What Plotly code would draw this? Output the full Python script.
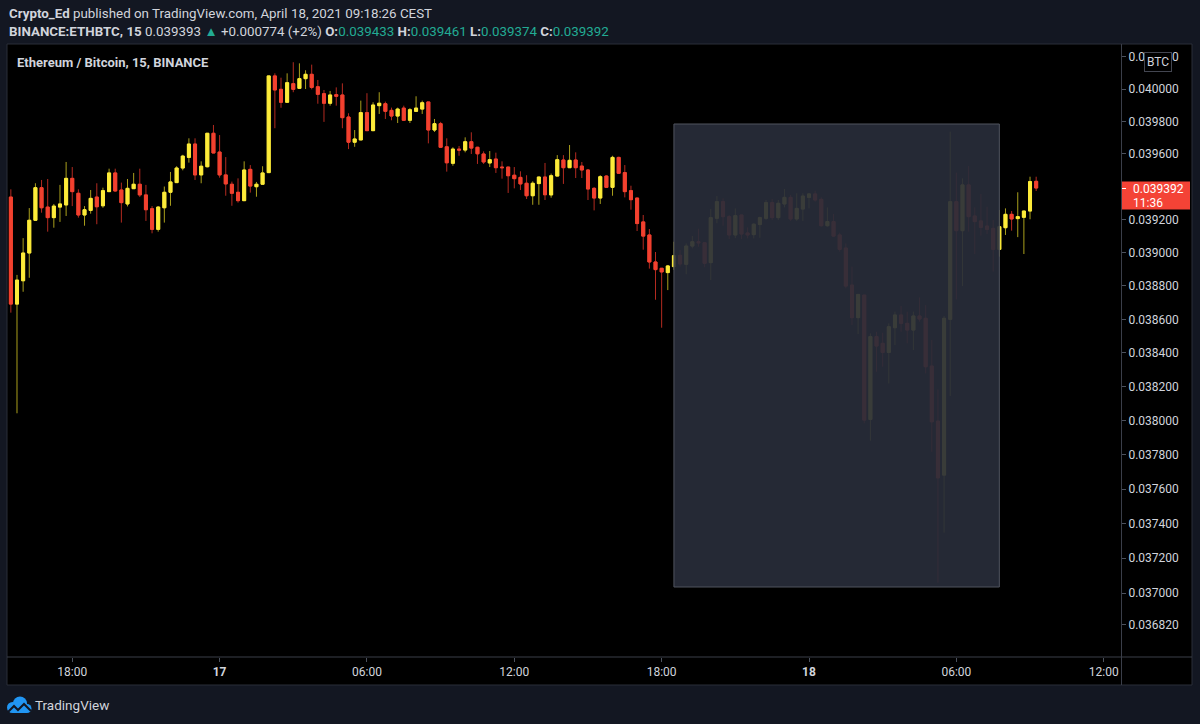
import math
import pandas as pd
import plotly.graph_objects as go

# ---------------- data (ETH/BTC, 15 min candles, Binance) ----------------
START = "2021-04-16 15:30"
open_ = [0.039337, 0.038691, 0.038831, 0.038998, 0.039196, 0.039394, 0.039276, 0.039212, 0.039276, 0.039289,
         0.039451, 0.039360, 0.039228, 0.039256, 0.039337, 0.039284, 0.039370, 0.039484, 0.039380, 0.039295,
         0.039388, 0.039415, 0.039350, 0.039266, 0.039141, 0.039272, 0.039366, 0.039425, 0.039514, 0.039579,
         0.039661, 0.039472, 0.039522, 0.039727, 0.039612, 0.039472, 0.039415, 0.039366, 0.039315, 0.039506,
         0.039400, 0.039415, 0.039486, 0.040081, 0.039998, 0.039918, 0.040033, 0.040004, 0.040064, 0.040091,
         0.040014, 0.039971, 0.039912, 0.039965, 0.039963, 0.039827, 0.039672, 0.039686, 0.039854, 0.039743,
         0.039897, 0.039909, 0.039868, 0.039833, 0.039882, 0.039807, 0.039862, 0.039876, 0.039920, 0.039747,
         0.039786, 0.039644, 0.039543, 0.039630, 0.039624, 0.039675, 0.039641, 0.039600, 0.039545, 0.039569,
         0.039520, 0.039520, 0.039470, 0.039457, 0.039421, 0.039345, 0.039419, 0.039459, 0.039350, 0.039465,
         0.039563, 0.039516, 0.039563, 0.039526, 0.039502, 0.039390, 0.039331, 0.039465, 0.039396, 0.039579,
         0.039486, 0.039376, 0.039331, 0.039186, 0.039107, 0.038944, 0.038906, 0.038880, 0.038916, 0.038984,
         0.038930, 0.039040, 0.039066, 0.039060, 0.038940, 0.039208, 0.039309, 0.039218, 0.039107, 0.039228,
         0.039119, 0.039109, 0.039170, 0.039208, 0.039303, 0.039212, 0.039295, 0.039335, 0.039204, 0.039264,
         0.039335, 0.039356, 0.039323, 0.039163, 0.039188, 0.039107, 0.039028, 0.038805, 0.038610, 0.038745,
         0.038007, 0.038497, 0.038457, 0.038403, 0.038550, 0.038626, 0.038576, 0.038536, 0.038620, 0.038606,
         0.038322, 0.037997, 0.037681, 0.038600, 0.039309, 0.039133, 0.039411, 0.039222, 0.039192, 0.039161,
         0.039147, 0.039020, 0.039151, 0.039232, 0.039206, 0.039214, 0.039252, 0.039433]
high = [0.039384, 0.038866, 0.039088, 0.039270, 0.039421, 0.039441, 0.039447, 0.039295, 0.039411, 0.039551,
        0.039520, 0.039384, 0.039282, 0.039380, 0.039421, 0.039394, 0.039510, 0.039510, 0.039425, 0.039447,
        0.039484, 0.039510, 0.039411, 0.039282, 0.039282, 0.039401, 0.039490, 0.039525, 0.039595, 0.039696,
        0.039696, 0.039555, 0.039727, 0.039778, 0.039716, 0.039581, 0.039431, 0.039451, 0.039555, 0.039532,
        0.039429, 0.039525, 0.040081, 0.040097, 0.040070, 0.040097, 0.040166, 0.040159, 0.040116, 0.040151,
        0.040056, 0.039994, 0.039988, 0.040010, 0.040035, 0.039850, 0.039747, 0.039928, 0.039974, 0.039918,
        0.039980, 0.039922, 0.039885, 0.039885, 0.039897, 0.039882, 0.039955, 0.039928, 0.039920, 0.039815,
        0.039797, 0.039696, 0.039641, 0.039649, 0.039702, 0.039733, 0.039644, 0.039616, 0.039618, 0.039608,
        0.039555, 0.039520, 0.039520, 0.039494, 0.039470, 0.039433, 0.039459, 0.039545, 0.039480, 0.039593,
        0.039593, 0.039655, 0.039610, 0.039551, 0.039508, 0.039398, 0.039470, 0.039470, 0.039589, 0.039583,
        0.039532, 0.039406, 0.039331, 0.039228, 0.039143, 0.039004, 0.038906, 0.038926, 0.039066, 0.039016,
        0.039056, 0.039101, 0.039145, 0.039060, 0.039264, 0.039343, 0.039329, 0.039228, 0.039268, 0.039228,
        0.039153, 0.039178, 0.039218, 0.039319, 0.039325, 0.039319, 0.039386, 0.039350, 0.039360, 0.039360,
        0.039360, 0.039376, 0.039335, 0.039274, 0.039234, 0.039121, 0.039056, 0.038916, 0.038749, 0.038745,
        0.038516, 0.038526, 0.038520, 0.038576, 0.038646, 0.038680, 0.038646, 0.038646, 0.038731, 0.038685,
        0.038477, 0.038184, 0.038620, 0.039737, 0.039486, 0.039451, 0.039526, 0.039274, 0.039356, 0.039278,
        0.039198, 0.039258, 0.039268, 0.039252, 0.039366, 0.039252, 0.039461, 0.039461]
low = [0.038640, 0.038043, 0.038765, 0.038849, 0.039192, 0.039242, 0.039127, 0.039151, 0.039186, 0.039222,
       0.039282, 0.039212, 0.039163, 0.039236, 0.039172, 0.039272, 0.039370, 0.039370, 0.039182, 0.039280,
       0.039386, 0.039337, 0.039192, 0.039117, 0.039127, 0.039182, 0.039284, 0.039425, 0.039500, 0.039547,
       0.039441, 0.039421, 0.039518, 0.039606, 0.039455, 0.039345, 0.039284, 0.039303, 0.039315, 0.039364,
       0.039339, 0.039415, 0.039486, 0.039758, 0.039884, 0.039915, 0.039980, 0.040000, 0.040000, 0.039998,
       0.039909, 0.039797, 0.039897, 0.039897, 0.039758, 0.039630, 0.039644, 0.039686, 0.039741, 0.039743,
       0.039846, 0.039815, 0.039807, 0.039790, 0.039805, 0.039790, 0.039858, 0.039846, 0.039665, 0.039735,
       0.039638, 0.039492, 0.039528, 0.039589, 0.039610, 0.039600, 0.039539, 0.039539, 0.039520, 0.039484,
       0.039449, 0.039362, 0.039390, 0.039380, 0.039325, 0.039290, 0.039290, 0.039319, 0.039333, 0.039465,
       0.039417, 0.039516, 0.039453, 0.039453, 0.039319, 0.039256, 0.039295, 0.039396, 0.039345, 0.039478,
       0.039335, 0.039260, 0.039131, 0.039018, 0.038904, 0.038717, 0.038550, 0.038775, 0.038896, 0.038916,
       0.038870, 0.039026, 0.039036, 0.038912, 0.038835, 0.039178, 0.039163, 0.039082, 0.039088, 0.039082,
       0.039086, 0.039086, 0.039090, 0.039198, 0.039198, 0.039198, 0.039274, 0.039192, 0.039192, 0.039192,
       0.039268, 0.039309, 0.039157, 0.039157, 0.039096, 0.039006, 0.038785, 0.038566, 0.038512, 0.037984,
       0.037882, 0.038288, 0.038318, 0.038219, 0.038447, 0.038526, 0.038457, 0.038417, 0.038586, 0.038278,
       0.037817, 0.037059, 0.037347, 0.038145, 0.038719, 0.038799, 0.039127, 0.038992, 0.039103, 0.039113,
       0.038886, 0.038976, 0.039107, 0.039133, 0.039094, 0.038992, 0.039202, 0.039374]
close = [0.038691, 0.038835, 0.038998, 0.039196, 0.039394, 0.039272, 0.039212, 0.039282, 0.039295, 0.039451,
         0.039370, 0.039228, 0.039260, 0.039329, 0.039278, 0.039376, 0.039484, 0.039374, 0.039303, 0.039390,
         0.039415, 0.039350, 0.039260, 0.039141, 0.039276, 0.039366, 0.039429, 0.039514, 0.039587, 0.039661,
         0.039472, 0.039525, 0.039727, 0.039606, 0.039472, 0.039417, 0.039360, 0.039315, 0.039502, 0.039404,
         0.039415, 0.039484, 0.040081, 0.039994, 0.039918, 0.040039, 0.039998, 0.040064, 0.040091, 0.040010,
         0.039967, 0.039912, 0.039963, 0.039955, 0.039823, 0.039672, 0.039692, 0.039854, 0.039743, 0.039901,
         0.039912, 0.039862, 0.039833, 0.039876, 0.039807, 0.039872, 0.039882, 0.039915, 0.039747, 0.039786,
         0.039641, 0.039546, 0.039630, 0.039624, 0.039675, 0.039636, 0.039601, 0.039551, 0.039565, 0.039516,
         0.039516, 0.039467, 0.039449, 0.039417, 0.039345, 0.039421, 0.039459, 0.039351, 0.039467, 0.039565,
         0.039516, 0.039561, 0.039516, 0.039502, 0.039386, 0.039331, 0.039461, 0.039396, 0.039579, 0.039482,
         0.039370, 0.039321, 0.039176, 0.039100, 0.038944, 0.038898, 0.038884, 0.038920, 0.038982, 0.038932,
         0.039040, 0.039066, 0.039060, 0.038936, 0.039212, 0.039309, 0.039218, 0.039107, 0.039224, 0.039113,
         0.039107, 0.039172, 0.039212, 0.039303, 0.039212, 0.039299, 0.039335, 0.039204, 0.039268, 0.039343,
         0.039356, 0.039319, 0.039163, 0.039188, 0.039100, 0.039020, 0.038799, 0.038610, 0.038749, 0.038003,
         0.038497, 0.038441, 0.038403, 0.038556, 0.038626, 0.038576, 0.038536, 0.038620, 0.038602, 0.038318,
         0.037993, 0.037665, 0.038606, 0.039309, 0.039133, 0.039411, 0.039218, 0.039188, 0.039153, 0.039141,
         0.039020, 0.039157, 0.039232, 0.039204, 0.039218, 0.039252, 0.039431, 0.039392]

price_ticks = [0.0402, 0.0400, 0.0398, 0.0396, 0.0392, 0.0390, 0.0388, 0.0386, 0.0384, 0.0382,
               0.0380, 0.0378, 0.0376, 0.0374, 0.0372, 0.0370, 0.03682]
time_ticks = ["2021-04-16 18:00", "2021-04-17 00:00", "2021-04-17 06:00", "2021-04-17 12:00",
              "2021-04-17 18:00", "2021-04-18 00:00", "2021-04-18 06:00", "2021-04-18 12:00"]
time_tick_text = ["18:00", "<b>17</b>", "06:00", "12:00", "18:00", "<b>18</b>", "06:00", "12:00"]

last_price = 0.039392
countdown = "11:36"
day_change = "+0.000774 (+2%)"
day_price = "0.039393"

times = pd.date_range(START, periods=len(open_), freq="15min")

# ---------------- style / geometry ----------------
W, H = 1200, 724
PL, PR, PT, PB = 8, 1121, 45, 657          # plot area in pixels
UP, DN = "#fdeb3a", "#f2412f"
UP_W, DN_W = "#a99f1c", "#b32a20"
TXT = "#d1d4dc"
TEAL = "#22ab94"
FONT = "Roboto, Lato, sans-serif"


def px(x):
    return (x - PL) / (PR - PL)


def py(y):
    return (PB - y) / (PB - PT)


# axis ranges (log price axis, time axis)
K = 14886.0                     # pixels per decade
lg40 = math.log10(0.04)         # 0.040000 sits at y=89
y_range = [lg40 - (PB - 89) / K, lg40 + (89 - PT) / K]
PXH = (809 - 219.6) / 24.0      # pixels per hour
d17 = pd.Timestamp("2021-04-17")
d18 = pd.Timestamp("2021-04-18")
x_range = [str(d17 - pd.Timedelta(hours=(219.6 - PL) / PXH)),
           str(d18 + pd.Timedelta(hours=(PR - 809) / PXH))]

body_hi = [max(o, c) for o, c in zip(open_, close)]
body_lo = [min(o, c) for o, c in zip(open_, close)]

fig = go.Figure()
fig.add_trace(go.Candlestick(
    x=times, open=open_, high=high, low=low, close=close,
    increasing=dict(line=dict(color=UP_W, width=1), fillcolor=UP),
    decreasing=dict(line=dict(color=DN_W, width=1), fillcolor=DN),
    whiskerwidth=0, showlegend=False, hoverinfo="skip"))
fig.add_trace(go.Candlestick(
    x=times, open=open_, high=body_hi, low=body_lo, close=close,
    increasing=dict(line=dict(color=UP, width=1), fillcolor=UP),
    decreasing=dict(line=dict(color=DN, width=1), fillcolor=DN),
    whiskerwidth=0, showlegend=False, hoverinfo="skip"))

shapes = []
# pane background and frame
shapes.append(dict(type="rect", xref="paper", yref="paper", x0=px(7), x1=px(1192), y0=py(685), y1=py(44),
                   fillcolor="#000000", line=dict(color="#2a2e39", width=1), layer="below"))
shapes.append(dict(type="line", xref="paper", yref="paper", x0=px(7), x1=px(1192), y0=py(657), y1=py(657),
                   line=dict(color="#3a3e49", width=1)))
shapes.append(dict(type="line", xref="paper", yref="paper", x0=px(1121.5), x1=px(1121.5), y0=py(44), y1=py(685),
                   line=dict(color="#3a3e49", width=1)))
# grey rectangle drawing
shapes.append(dict(type="rect", xref="x", yref="paper", x0="2021-04-17 18:30", x1="2021-04-18 07:45",
                   y0=py(587), y1=py(124), fillcolor="rgba(40,44,57,0.92)",
                   line=dict(color="#50545f", width=1), layer="above"))
# last price label
shapes.append(dict(type="rect", xref="paper", yref="paper", x0=px(1122), x1=px(1190), y0=py(209.5), y1=py(181.5),
                   fillcolor="#f44336", line=dict(width=0)))
shapes.append(dict(type="line", xref="paper", yref="paper", x0=px(1122), x1=px(1126), y0=py(188.5), y1=py(188.5),
                   line=dict(color="#ffffff", width=1)))
# TradingView logo (cloud)
BLUE = "#2196f3"
for cx, cy, r in [(12.5, 707.5, 5.5), (20, 703.5, 7), (27, 708.5, 4.5)]:
    shapes.append(dict(type="circle", xref="paper", yref="paper", x0=px(cx - r), x1=px(cx + r),
                       y0=py(cy + r), y1=py(cy - r), fillcolor=BLUE, line=dict(width=0)))
shapes.append(dict(type="rect", xref="paper", yref="paper", x0=px(12.5), x1=px(27), y0=py(713), y1=py(706),
                   fillcolor=BLUE, line=dict(width=0)))
zig = [(8, 712), (14, 706), (18, 710), (24, 704), (31, 711)]
path = "M " + " L ".join(f"{px(a)},{py(b)}" for a, b in zig)
shapes.append(dict(type="path", xref="paper", yref="paper", path=path, line=dict(color="#131722", width=2)))

HDR = 13.35
ann = []
ann.append(dict(xref="paper", yref="paper", x=px(7), y=py(14), xanchor="left", yanchor="middle", showarrow=False,
                text="<b>Crypto_Ed</b> published on TradingView.com, April 18, 2021 09:18:26 CEST",
                font=dict(family=FONT, size=HDR, color=TXT)))
tc = lambda s: f'<span style="color:{TEAL}">{s}</span>'
line2 = (f"<b>BINANCE:ETHBTC, 15</b> {day_price} {tc('▲')} {day_change} "
         f"<b>O:</b>{tc(f'{open_[-1]:.6f}')} <b>H:</b>{tc(f'{high[-1]:.6f}')} "
         f"<b>L:</b>{tc(f'{low[-1]:.6f}')} <b>C:</b>{tc(f'{close[-1]:.6f}')}")
ann.append(dict(xref="paper", yref="paper", x=px(7), y=py(31.5), xanchor="left", yanchor="middle", showarrow=False,
                text=line2, font=dict(family=FONT, size=HDR, color=TXT)))
ann.append(dict(xref="paper", yref="paper", x=px(15), y=py(62.5), xanchor="left", yanchor="middle", showarrow=False,
                text="<b>Ethereum / Bitcoin, 15, BINANCE</b>", font=dict(family=FONT, size=13, color=TXT)))
ann.append(dict(xref="paper", yref="paper", x=px(1131), y=py(188.5), xanchor="left", yanchor="middle",
                showarrow=False, text=f"{last_price:.6f}", font=dict(family=FONT, size=12, color="#ffffff")))
ann.append(dict(xref="paper", yref="paper", x=px(1131), y=py(203), xanchor="left", yanchor="middle",
                showarrow=False, text=countdown, font=dict(family=FONT, size=12, color="#ffffff")))
ann.append(dict(xref="paper", yref="paper", x=px(1157.5), y=py(61.5), xanchor="center", yanchor="middle",
                showarrow=False, text="BTC", font=dict(family=FONT, size=12, color=TXT),
                bgcolor="#000000", bordercolor="#434651", borderwidth=1, borderpad=2))
ann.append(dict(xref="paper", yref="paper", x=px(33), y=py(704.5), xanchor="left", yanchor="middle",
                showarrow=False, text="TradingView", font=dict(family=FONT, size=13.5, color=TXT)))

fig.update_layout(
    width=W, height=H,
    margin=dict(l=PL, r=W - PR, t=PT, b=H - PB, pad=0),
    paper_bgcolor="#131722", plot_bgcolor="#000000",
    boxmode="overlay",
    showlegend=False,
    shapes=shapes, annotations=ann,
    xaxis=dict(type="date", range=x_range, rangeslider=dict(visible=False), showgrid=False, zeroline=False,
               showline=False, tickmode="array", tickvals=time_ticks, ticktext=time_tick_text,
               ticks="outside", ticklen=4, tickcolor="#4c525e",
               tickfont=dict(family=FONT, size=12, color=TXT), fixedrange=True),
    yaxis=dict(type="log", side="right", range=y_range, showgrid=False, zeroline=False, showline=False,
               tickmode="array", tickvals=price_ticks, ticktext=[f"{v:.6f}" for v in price_ticks],
               ticks="outside", ticklen=4, tickcolor="#4c525e",
               tickfont=dict(family=FONT, size=12, color=TXT), fixedrange=True),
)

fig.write_html("out.html")
